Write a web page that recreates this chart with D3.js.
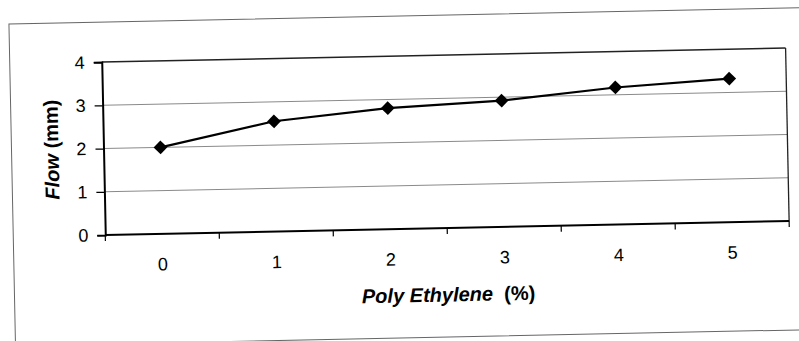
<!DOCTYPE html>
<html>
<head>
<meta charset="utf-8">
<script src="https://cdn.jsdelivr.net/npm/d3@7"></script>
<style>
  body { margin: 0; background: #fff; }
  svg { display: block; font-family: "Liberation Sans", Arial, sans-serif; }
</style>
</head>
<body>
<svg id="chart"></svg>
<script>
let width = 799;
let height = 341;

// values
let categories = ["0", "1", "2", "3", "4", "5"];
let flowValues = [2.0, 2.55, 2.8, 2.92, 3.17, 3.32];
let yTicks = [0, 1, 2, 3, 4];

let plot = { left: 104, right: 788, top: 56, bottom: 229 };

let svg = d3.select("#chart")
    .attr("width", width)
    .attr("height", height);

// the scan is slightly tilted, so the whole drawing is turned a little
let g = svg.append("g")
    .attr("transform", "rotate(-1.17, 400, 170)");

// outer chart frame
g.append("rect")
    .attr("x", 12).attr("y", 16)
    .attr("width", 792).attr("height", 322)
    .attr("fill", "none")
    .attr("stroke", "#666")
    .attr("stroke-width", 1);

let x = d3.scaleBand()
    .domain(categories)
    .range([plot.left, plot.right]);

let y = d3.scaleLinear()
    .domain([0, 4])
    .range([plot.bottom, plot.top]);

// gridlines
g.append("g")
    .selectAll("line")
    .data(yTicks.slice(1, -1))
    .enter().append("line")
    .attr("x1", plot.left).attr("x2", plot.right)
    .attr("y1", d => y(d)).attr("y2", d => y(d))
    .attr("stroke", "#8a8a8a")
    .attr("stroke-width", 1);

// plot border (top and right)
g.append("line")
    .attr("x1", plot.left).attr("x2", plot.right)
    .attr("y1", plot.top).attr("y2", plot.top)
    .attr("stroke", "#222").attr("stroke-width", 1.5);
g.append("line")
    .attr("x1", plot.right).attr("x2", plot.right)
    .attr("y1", plot.top).attr("y2", plot.bottom)
    .attr("stroke", "#222").attr("stroke-width", 1.3);

// y axis
let yAxis = g.append("g")
    .attr("transform", `translate(${plot.left},0)`)
    .call(d3.axisLeft(y).tickValues(yTicks).tickSize(8).tickPadding(9).tickFormat(d3.format("d")));
yAxis.select(".domain").attr("stroke", "#000").attr("stroke-width", 2);
yAxis.selectAll(".tick line").attr("stroke", "#000").attr("stroke-width", 1.2);
yAxis.selectAll(".tick text")
    .attr("font-size", 18)
    .attr("fill", "#000")
    .attr("font-family", "Liberation Sans, Arial, sans-serif");

// x axis: Excel style, ticks between categories
let xAxis = g.append("g")
    .attr("transform", `translate(0,${plot.bottom})`);
xAxis.append("line")
    .attr("x1", plot.left).attr("x2", plot.right)
    .attr("stroke", "#000").attr("stroke-width", 2);
let bounds = categories.map(c => x(c)).concat([plot.right]);
xAxis.selectAll(".xtick")
    .data(bounds)
    .enter().append("line")
    .attr("class", "xtick")
    .attr("x1", d => d).attr("x2", d => d)
    .attr("y1", 0).attr("y2", 6)
    .attr("stroke", "#000").attr("stroke-width", 1.2);
xAxis.selectAll(".xlabel")
    .data(categories)
    .enter().append("text")
    .attr("class", "xlabel")
    .attr("x", d => x(d) + x.bandwidth() / 2)
    .attr("y", 36.5)
    .attr("text-anchor", "middle")
    .attr("font-size", 18)
    .text(d => d);

// series line
let line = d3.line()
    .x((d, i) => x(categories[i]) + x.bandwidth() / 2)
    .y(d => y(d));

g.append("path")
    .datum(flowValues)
    .attr("d", line)
    .attr("fill", "none")
    .attr("stroke", "#000")
    .attr("stroke-width", 2.2);

// diamond markers
let diamond = d3.symbol().type(d3.symbolSquare).size(95);
g.append("g")
    .selectAll("path")
    .data(flowValues)
    .enter().append("path")
    .attr("d", diamond)
    .attr("transform", (d, i) => `translate(${x(categories[i]) + x.bandwidth() / 2},${y(d)}) rotate(45)`)
    .attr("fill", "#000");

// axis titles
let xTitle = g.append("text")
    .attr("x", (plot.left + plot.right) / 2)
    .attr("y", 302.5)
    .attr("text-anchor", "middle")
    .attr("font-size", 20)
    .attr("font-weight", "bold");
xTitle.append("tspan").attr("font-style", "italic").text("Poly Ethylene");
xTitle.append("tspan").text("\u00a0 (%)");

let yTitle = g.append("text")
    .attr("transform", `translate(59,${(plot.top + plot.bottom) / 2}) rotate(-90)`)
    .attr("text-anchor", "middle")
    .attr("font-size", 20)
    .attr("font-weight", "bold");
yTitle.append("tspan").attr("font-style", "italic").text("Flow");
yTitle.append("tspan").text(" (mm)");
</script>
</body>
</html>
